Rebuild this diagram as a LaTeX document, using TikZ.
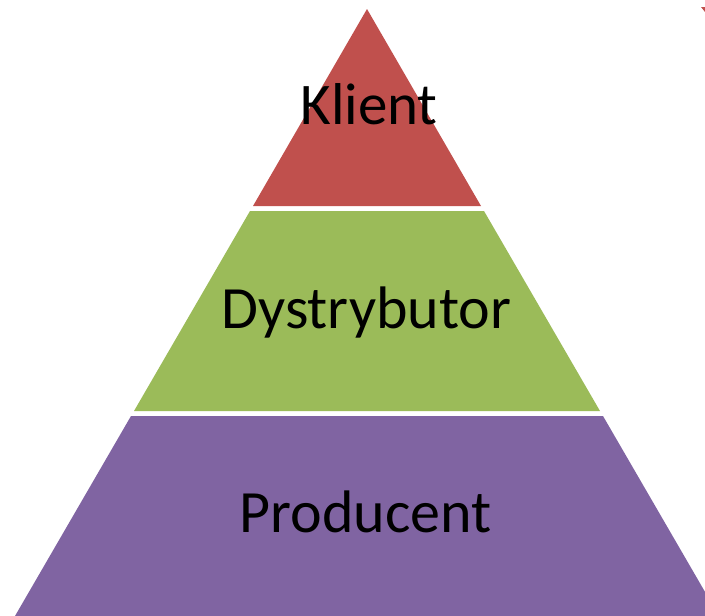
\documentclass[tikz,border=0pt]{standalone}
\usepackage{fontspec}
\setmainfont{Carlito}
\usepackage{tikz}
\usetikzlibrary{calc}
\definecolor{tierred}{HTML}{C0504D}
\definecolor{tiergreen}{HTML}{9BBB59}
\definecolor{tierpurple}{HTML}{8064A2}
\tikzstyle{tier} = [draw=none]
\tikzstyle{label} = [anchor=base,inner sep=0pt,text=black,font=\fontsize{60}{66}\selectfont]

\begin{document}
\begin{tikzpicture}[x=1pt,y=-1pt]
\useasboundingbox (0,0) rectangle (705,616);
\clip (0,0) rectangle (705,616);

\fill[tier,tierred] (367,9) -- (481,206) -- (253,206) -- cycle;
\fill[tier,tiergreen] (250,211) -- (484,211) -- (600,411) -- (134,411) -- cycle;
\fill[tier,tierpurple] (131,416) -- (603,416) -- (719,616) -- (15,616) -- cycle;

\fill[tierred] (701,7) -- (705,7) -- (705,12) -- cycle;

\node(klient)[label,font=\fontsize{59}{65}\selectfont] at (369,124) {Klient};
\node(dystrybutor)[label] at (366.5,328) {Dystrybutor};
\node(producent)[label] at (365.5,532) {Producent};
\end{tikzpicture}
\end{document}
